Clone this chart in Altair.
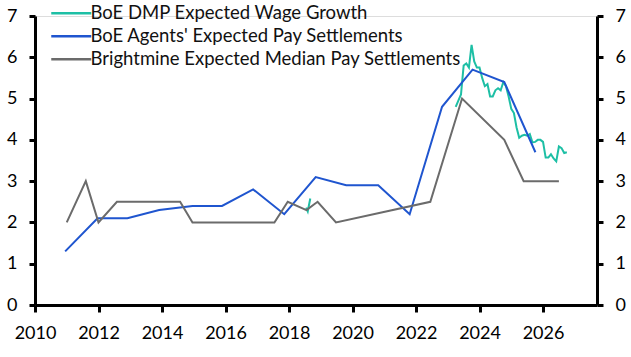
import altair as alt
import pandas as pd

# BoE DMP Expected Wage Growth (two separate segments)
dmp_2018_x = [2018.54, 2018.59, 2018.67]
dmp_2018_y = [2.36, 2.27, 2.58]
dmp_x = [2023 + k / 12 for k in range(3, 46)]
dmp_y = [4.8, 4.95, 5.1, 5.8, 5.85, 5.75, 6.3, 5.9, 5.75, 5.75,
         5.5, 5.3, 5.35, 5.05, 5.05, 5.2, 5.25, 5.2, 5.4, 5.3,
         5.05, 4.75, 4.65, 4.3, 4.05, 4.1, 4.12, 4.1, 4.14, 3.94,
         3.95, 4.0, 4.0, 3.95, 3.57, 3.57, 3.65, 3.55, 3.48, 3.84,
         3.8, 3.68, 3.7]

# BoE Agents' Expected Pay Settlements
agents_x = [2010.95, 2011.97, 2012.91, 2013.91, 2014.96, 2015.89, 2016.87, 2017.85,
            2018.84, 2019.8, 2020.81, 2021.8, 2022.82, 2023.78, 2024.78, 2025.76]
agents_y = [1.3, 2.1, 2.1, 2.3, 2.4, 2.4, 2.8, 2.2, 3.1, 2.9, 2.9, 2.2, 4.8, 5.7, 5.4, 3.7]

# Brightmine Expected Median Pay Settlements
bright_x = [2011.0, 2011.6, 2012.0, 2012.58, 2014.57, 2014.96, 2017.54, 2017.96,
            2018.55, 2018.9, 2019.48, 2022.45, 2023.45, 2024.78, 2025.39, 2026.5]
bright_y = [2.0, 3.0, 2.0, 2.5, 2.5, 2.0, 2.0, 2.5, 2.3, 2.5, 2.0, 2.5, 5.0, 4.0, 3.0, 3.0]

series_names = ["BoE DMP Expected Wage Growth",
                "BoE Agents' Expected Pay Settlements",
                "Brightmine Expected Median Pay Settlements"]
series_colors = ["#1DBFA5", "#1F55CF", "#6B6B6B"]
x_ticks = list(range(2010, 2027, 2))
y_ticks = list(range(0, 8))

rows = []
for x, y in zip(dmp_2018_x, dmp_2018_y):
    rows.append({"series": series_names[0], "seg": "dmp_a", "x": x, "y": y})
for x, y in zip(dmp_x, dmp_y):
    rows.append({"series": series_names[0], "seg": "dmp_b", "x": x, "y": y})
for x, y in zip(agents_x, agents_y):
    rows.append({"series": series_names[1], "seg": "agents", "x": x, "y": y})
for x, y in zip(bright_x, bright_y):
    rows.append({"series": series_names[2], "seg": "bright", "x": x, "y": y})
df = pd.DataFrame(rows)

FONT = "Lato"

xscale = alt.Scale(domain=[2010, 2027.7], nice=False, zero=False)
yscale = alt.Scale(domain=[0, 7], nice=False)

xaxis = alt.Axis(values=x_ticks, format="d", title=None, grid=False,
                 domainColor="black", domainWidth=3, tickColor="black",
                 tickWidth=3, tickSize=7, labelPadding=12, labelFontSize=18,
                 labelFont=FONT, labelColor="black", labelFlush=False)

def yaxis(orient):
    return alt.Axis(values=y_ticks, orient=orient, title=None, grid=False,
                    domainColor="black", domainWidth=3, tickColor="black",
                    tickWidth=3, tickSize=6, labelPadding=12, labelFontSize=18,
                    labelFont=FONT, labelColor="black")

lines = alt.Chart(df).mark_line(strokeWidth=2).encode(
    x=alt.X("x:Q", scale=xscale, axis=xaxis),
    y=alt.Y("y:Q", scale=yscale, axis=yaxis("left")),
    color=alt.Color("series:N",
                    scale=alt.Scale(domain=series_names, range=series_colors),
                    sort=series_names,
                    legend=alt.Legend(title=None, orient="none", legendX=27, legendY=-12,
                                      symbolType="M-4,0H4", symbolSize=100,
                                      symbolStrokeWidth=2.5, labelFont=FONT,
                                      labelFontSize=18.5, labelColor="#111111",
                                      labelOffset=10, rowPadding=4, labelLimit=500)),
    detail="seg:N",
)

right = alt.Chart(df).mark_line(strokeOpacity=0).encode(
    x=alt.X("x:Q", scale=xscale, axis=xaxis),
    y=alt.Y("y:Q", scale=yscale, axis=yaxis("right")),
    detail="seg:N",
)

chart = alt.layer(lines, right).resolve_scale(y="independent").properties(
    width=562, height=289,
    padding={"left": 35, "top": 16, "right": 34, "bottom": 52},
    autosize=alt.AutoSizeParams(type="none"),
).configure_view(stroke=None).configure(background="white")

chart.save("out.html", embed_options={"renderer": "svg", "actions": False})
